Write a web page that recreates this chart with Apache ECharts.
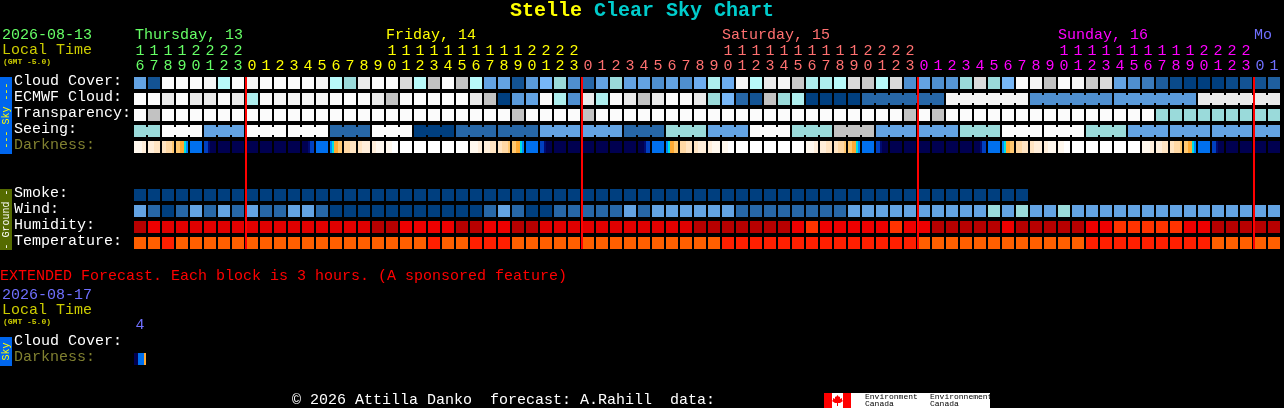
<!DOCTYPE html>
<html>
<head>
<meta charset="utf-8">
<style>html,body{margin:0;padding:0;background:#000}#c{width:1284px;height:408px}</style>
<script src="https://cdn.jsdelivr.net/npm/echarts@6/dist/echarts.min.js"></script>
</head>
<body>
<div id="c"></div>
<script>
// ---------- categories ----------
const hours = [16,17,18,19,20,21,22,23,
  0,1,2,3,4,5,6,7,8,9,10,11,12,13,14,15,16,17,18,19,20,21,22,23,
  0,1,2,3,4,5,6,7,8,9,10,11,12,13,14,15,16,17,18,19,20,21,22,23,
  0,1,2,3,4,5,6,7,8,9,10,11,12,13,14,15,16,17,18,19,20,21,22,23,
  0,1];
const rowNames = ['Cloud Cover:','ECMWF Cloud:','Transparency:','Seeing:','Darkness:',' ','  ','Smoke:','Wind:','Humidity:','Temperature:'];
const extRowNames = ['Cloud Cover:','Darkness:'];
const extHours = [4];
const midnights = [8,32,56,80];
const dayLabels = ['Thursday, 13','Friday, 14','Saturday, 15','Sunday, 16','Mo'];
const dayFirstCol = [0,8,32,56,80];

// ---------- series values (sky shades: percent of cloud) ----------
const cloudCover = [40,10,100,100,100,95,75,100,95,100,
  100,100,100,95,75,60,90,100,100,85,
  75,80,100,80,75,40,40,10,35,50,
  60,30,20,40,60,40,40,30,40,30,
  45,70,45,95,75,90,95,82,70,70,
  75,85,82,75,85,30,40,30,33,60,
  85,60,50,100,95,80,100,95,82,85,
  40,30,25,15,5,0,0,0,5,10,10,18];
const ecmwfCloud = [100,100,90,100,90,90,100,90,70,100,
  95,95,95,95,100,100,100,90,80,100,
  100,100,100,100,90,80,0,35,40,100,
  70,30,90,70,100,90,80,90,100,100,
  90,60,50,20,10,80,60,70,0,0,
  0,0,20,20,20,20,20,20,95,95,
  95,95,95,95,30,30,30,30,30,30,
  35,35,35,35,35,35,90,90,90,90,90,90];
const transparency = [100,80,100,100,100,100,100,100,100,100,
  100,100,100,100,100,100,100,100,100,100,
  100,100,100,100,100,100,100,80,100,100,
  100,100,80,100,100,100,100,100,100,100,
  100,100,100,100,100,100,100,100,100,100,
  100,100,100,100,100,80,100,80,100,100,
  100,100,100,100,100,100,100,100,100,100,
  100,100,100,60,60,60,60,60,60,60,60,60];
const seeing = [60,60,100,100,100,40,40,40,100,100,
  100,100,100,100,20,20,20,100,100,100,
  0,0,0,20,20,20,20,20,20,40,
  40,40,40,40,40,20,20,20,60,60,
  60,40,40,40,100,100,100,60,60,60,
  80,80,80,40,40,40,40,40,40,60,
  60,60,100,100,100,100,100,100,60,60,
  60,40,40,40,40,40,40,40,40,40,40,40];
const smoke = [0,0,0,0,0,0,0,0,0,0,0,0,0,0,0,0,0,0,0,0,0,0,0,0,0,0,0,0,0,0,0,0,
  0,0,0,0,0,0,0,0,0,0,0,0,0,0,0,0,0,0,0,0,0,0,0,0,0,0,0,0,0,0,0,0];
const wind = [40,20,0,20,40,20,40,20,40,20,
  20,40,40,20,0,0,0,0,0,0,
  0,0,0,0,0,20,40,20,0,0,
  20,20,20,20,20,40,20,40,40,40,
  40,40,40,20,20,20,20,20,20,20,
  20,40,40,40,40,40,40,40,40,40,
  40,60,40,60,40,40,60,40,40,40,
  40,40,40,40,40,40,40,40,40,40,40,40];
const humidity = [95,85,90,90,90,90,90,90,90,90,
  90,90,90,90,90,90,90,95,95,85,
  85,85,85,95,95,85,85,95,95,90,
  90,90,90,90,90,90,90,90,90,90,
  95,95,95,95,95,95,95,85,80,85,
  85,85,85,85,80,85,85,95,95,95,
  95,95,85,95,95,95,95,95,85,85,
  80,80,80,80,80,85,85,95,95,95,95,95];
const temperature = [22,22,26,22,22,22,22,22,22,22,
  22,22,22,22,22,22,22,22,22,22,
  22,26,22,22,26,26,26,22,22,22,
  22,22,22,22,22,22,22,22,22,22,
  22,22,26,26,26,26,26,26,26,26,
  26,26,26,26,26,26,22,22,22,22,
  22,22,22,22,22,22,22,22,26,26,
  26,26,26,26,26,26,26,22,22,22,22,22];
// darkness: brightness levels sampled across each hour
const darkness = [
  [1,1,1,1,2,2],[2,2,2,3,3,3],[3,3,4,4,4,5],[5,5,6,6,7,8],[9],[10,10,11,12,12,12],[12],[12],
  [12],[12],[12],[12],[12,12,12,11,10,10],[9],[8,7,6,6,5,5],[4,4,4,3,3,3],
  [3,3,2,2,2,2],[2,2,1,1,1,1],[1,1,1,0,0,0],[0],[0],[0],[0],[0],
  [1,1,1,1,2,2],[2,2,2,3,3,3],[3,3,4,4,4,5],[5,5,6,6,7,8],[9],[10,10,11,12,12,12],[12],[12],
  [12],[12],[12],[12],[12,12,12,11,10,10],[9],[8,7,6,6,5,5],[4,4,4,3,3,3],
  [3,3,2,2,2,2],[2,2,1,1,1,1],[1,1,1,0,0,0],[0],[0],[0],[0],[0],
  [1,1,1,1,2,2],[2,2,2,3,3,3],[3,3,4,4,4,5],[5,5,6,6,7,8],[9],[10,10,11,12,12,12],[12],[12],
  [12],[12],[12],[12],[12,12,12,11,10,10],[9],[8,7,6,6,5,5],[4,4,4,3,3,3],
  [3,3,2,2,2,2],[2,2,1,1,1,1],[1,1,1,0,0,0],[0],[0],[0],[0],[0],
  [1,1,1,1,2,2],[2,2,2,3,3,3],[3,3,4,4,4,5],[5,5,6,6,7,8],[9],[10,10,11,12,12,12],[12],[12],
  [12],[12]
];
const extDarkness = [[12,12,9,9,9,6]];
// first column of each merged forecast block
const seeingBlocks = [0,2,5,8,11,14,17,20,23,26,29,32,35,38,41,44,47,50,53,56,59,62,65,68,71,74,77,80];
const ecmwfBlocks = [52,58,64,70,76];

// ---------- styles ----------
const SKY = {0:'#003f7f',5:'#0a4a8a',10:'#135393',15:'#1d5d9d',18:'#1f5f9f',20:'#2767a7',25:'#3b7bbb',30:'#4f8fcf',33:'#5595d5',35:'#5a9ada',40:'#63a3e3',45:'#6dadf0',50:'#77b7f7',60:'#9adada',70:'#aeeeee',75:'#b8fafa',80:'#c2c2c2',82:'#cacaca',85:'#dadada',90:'#eaeaea',95:'#f5f5f5',100:'#fbfbfb'};
const HUM = {95:'#b80000',90:'#e00000',85:'#ee0000',80:'#ff3300'};
const TEMP = {22:'#ff5f00',26:'#ff1f00'};
const DARK = ['#ffffff','#fff8ee','#ffeeda','#ffe4c2','#ffd8a4','#ffc870','#ffaa33','#00e0e0','#0088ff','#0070ee','#0040c0','#000a70','#000050'];
const FONT = '"Liberation Mono","DejaVu Sans Mono",monospace';
const GREEN='#66ff66', YELLOW='#ffff00', SALMON='#ff7070', MAGENTA='#ff00ff', PERI='#7070ff';
const dayColors = [GREEN,YELLOW,SALMON,MAGENTA,PERI];
function colColor(i){let c=0;for(let k=0;k<dayFirstCol.length;k++)if(i>=dayFirstCol[k])c=k;return dayColors[c];}

function darkFill(samples){
  if(samples.length===1) return DARK[samples[0]];
  const stops=[];const n=samples.length;
  samples.forEach((s,k)=>{stops.push({offset:k/n,color:DARK[s]});stops.push({offset:(k+1)/n,color:DARK[s]});});
  return new echarts.graphic.LinearGradient(0,0,1,0,stops);
}
function rowSeries(name,row,values,fillOf,blocks,gridIndex){
  const startSet = blocks ? new Set(blocks) : null;
  const first = blocks ? blocks[0] : 0;
  return {
    type:'custom',name,xAxisIndex:gridIndex?2:0,yAxisIndex:gridIndex?1:0,clip:false,silent:true,
    data:values.map((v,i)=>[i,row]),
    encode:{x:0,y:1},
    renderItem(params,api){
      const i=api.value(0);
      const c=api.coord([i,api.value(1)]);
      const s=api.size([1,1]);
      const w=s[0]-2,h=s[1]-4;
      const x=c[0]-w/2,y=c[1]-h/2;
      const fill=fillOf(values[i]);
      const kids=[{type:'rect',shape:{x,y,width:w,height:h},style:{fill}}];
      if(startSet && i>=first && i<values.length-1 && !startSet.has(i+1)){
        kids.push({type:'rect',shape:{x:x+w,y:y+2,width:2,height:h-4},style:{fill}});
      }
      return {type:'group',children:kids};
    }
  };
}
const skyFill=v=>SKY[v];

const series=[
  rowSeries('Cloud Cover',0,cloudCover,skyFill),
  rowSeries('ECMWF Cloud',1,ecmwfCloud,skyFill,ecmwfBlocks),
  rowSeries('Transparency',2,transparency,skyFill),
  rowSeries('Seeing',3,seeing,skyFill,seeingBlocks),
  rowSeries('Darkness',4,darkness,darkFill),
  rowSeries('Smoke',7,smoke,skyFill),
  rowSeries('Wind',8,wind,skyFill),
  rowSeries('Humidity',9,humidity,v=>HUM[v]),
  rowSeries('Temperature',10,temperature,v=>TEMP[v]),
  rowSeries('Extended Darkness',1,extDarkness,darkFill,null,1),
  {type:'custom',name:'Midnight',xAxisIndex:0,yAxisIndex:0,clip:false,silent:true,z:5,
   data:midnights.map(m=>[m]),encode:{x:0},
   renderItem(params,api){
     const i=api.value(0);
     const top=api.coord([i,0]),bot=api.coord([i,rowNames.length-1]);
     const s=api.size([1,1]);
     return {type:'rect',shape:{x:top[0]-s[0]/2,y:top[1]-s[1]/2+2,width:2,height:bot[1]-top[1]+s[1]-4},style:{fill:'#ff0000'}};
   }}
];

function txt(text,x,y,fill,size,weight){
  return {type:'text',x,y,silent:true,style:{text,fill,font:(weight||'normal')+' '+size+'px '+FONT,textAlign:'left',textVerticalAlign:'middle'}};
}
function sideBar(y,h,fill,text,color){
  return [
    {type:'rect',shape:{x:0,y,width:12,height:h},style:{fill},silent:true},
    {type:'text',x:6,y:y+h/2,rotation:Math.PI/2,silent:true,style:{text,fill:color,font:'10px '+FONT,textAlign:'center',textVerticalAlign:'middle'}}
  ];
}
const graphics=[
  txt('Stelle',510,11,YELLOW,20,'bold'),
  txt('Clear Sky Chart',594,11,'#00cccc',20,'bold'),
  txt('2026-08-13',2,35,GREEN,15),
  txt('Local Time',2,50,'#cccc00',15),
  txt('(GMT -5.0)',3,62,'#cccc00',8,'bold'),
  txt('EXTENDED Forecast. Each block is 3 hours. (A sponsored feature)',0,276,'#ff0000',15),
  txt('2026-08-17',2,295,PERI,15),
  txt('Local Time',2,310,'#cccc00',15),
  txt('(GMT -5.0)',3,322,'#cccc00',8,'bold'),
  txt('\u00a9 2026 Attilla Danko  forecast: A.Rahill  data:',292,400,'#ffffff',15),
  ...sideBar(77,77,'#0066ee','--- Sky ---','#ffff00'),
  ...sideBar(189,61,'#556b00','- Ground -','#ffffff'),
  ...sideBar(337,29,'#0066ee','Sky','#ffff00'),
  {type:'rect',shape:{x:824,y:393,width:166,height:15},style:{fill:'#ffffff'},silent:true},
  {type:'rect',shape:{x:824,y:393,width:8,height:15},style:{fill:'#ff0000'},silent:true},
  {type:'rect',shape:{x:843,y:393,width:8,height:15},style:{fill:'#ff0000'},silent:true},
  {type:'polygon',shape:{points:[[837.5,395],[839,397],[840,396.5],[840,399],[842,398],[842,400],[843,401],[840,403],[838,403],[838,406],[837,406],[837,403],[835,403],[832,401],[833,400],[833,398],[835,399],[835,396.5],[836,397]]},style:{fill:'#ff0000'},silent:true},
  txt('Environment',865,397,'#000000',8),
  txt('Canada',865,404,'#000000',8),
  txt('Environnement',930,397,'#000000',8),
  txt('Canada',930,404,'#000000',8)
];
dayLabels.forEach((d,k)=>{
  const xs=[135,386,722,1058,1254];
  graphics.push(txt(d,xs[k],35,dayColors[k],15));
});

const chart=echarts.init(document.getElementById('c'),null,{renderer:'canvas',width:1284,height:408});
const hourAxis=(margin,fmt)=>({
  type:'category',gridIndex:0,position:'top',data:hours.map((h,i)=>String(i)),
  axisLine:{show:false},axisTick:{show:false},splitLine:{show:false},
  axisLabel:{show:true,interval:0,margin,fontFamily:FONT,fontSize:15,
    formatter:(v)=>fmt(hours[+v]),
    color:(v)=>colColor(+v)}
});
const rowLabel={interval:0,margin:119,align:'left',verticalAlign:'bottom',fontFamily:FONT,fontSize:15,lineHeight:3,
  color:(v)=>v==='Darkness:'?'#808030':'#ffffff'};
chart.setOption({
  animation:false,
  backgroundColor:'#000000',
  graphic:graphics,
  grid:[
    {left:133,top:75,width:1148,height:176,containLabel:false},
    {left:133,top:335,width:14,height:32,containLabel:false}
  ],
  xAxis:[
    hourAxis(1,h=>String(h%10)),
    hourAxis(16,h=>h>=10?String(Math.floor(h/10)):''),
    {type:'category',gridIndex:1,position:'top',data:extHours.map(String),
     axisLine:{show:false},axisTick:{show:false},
     axisLabel:{interval:0,margin:2,fontFamily:FONT,fontSize:15,color:PERI}}
  ],
  yAxis:[
    {type:'category',gridIndex:0,inverse:true,data:rowNames,
     axisLine:{show:false},axisTick:{show:false},splitLine:{show:false},axisLabel:rowLabel},
    {type:'category',gridIndex:1,inverse:true,data:extRowNames,
     axisLine:{show:false},axisTick:{show:false},splitLine:{show:false},axisLabel:rowLabel}
  ],
  series
});
</script>
</body>
</html>
